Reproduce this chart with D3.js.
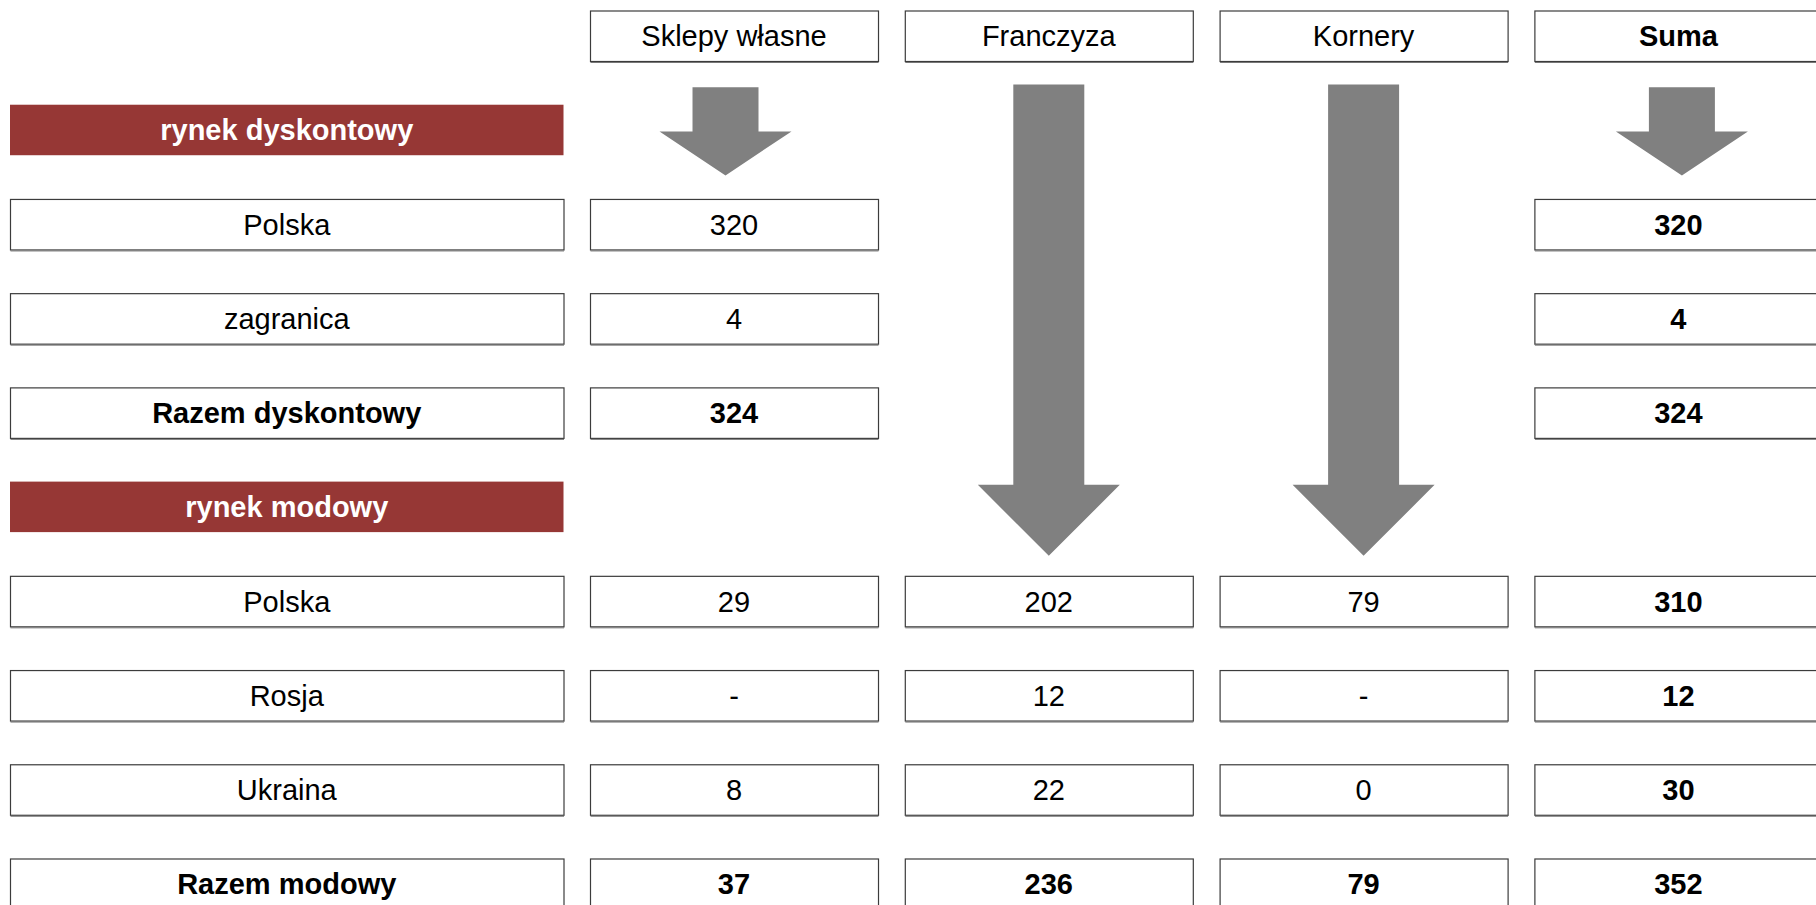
<!DOCTYPE html>
<html>
<head>
<meta charset="utf-8">
<script src="https://cdn.jsdelivr.net/npm/d3@7"></script>
<style>
  html, body { margin: 0; padding: 0; background: #fff; }
  svg { display: block; }
  text { font-family: Arial, "Liberation Sans", sans-serif; }
</style>
</head>
<body>
<svg id="chart" width="1816" height="905"></svg>
<script>
// ── data ──────────────────────────────────────
const columns = ["Sklepy własne", "Franczyza", "Kornery", "Suma"];
const rowLabels = [
  "rynek dyskontowy", "Polska", "zagranica", "Razem dyskontowy",
  "rynek modowy", "Polska", "Rosja", "Ukraina", "Razem modowy"
];
const rowKinds = ["section", "item", "item", "total", "section", "item", "item", "item", "total"];
const sklepyValues    = [null, "320", "4", "324", null, "29", "-", "8", "37"];
const franczyzaValues = [null, null, null, null, null, "202", "12", "22", "236"];
const korneryValues   = [null, null, null, null, null, "79", "-", "0", "79"];
const sumaValues      = [null, "320", "4", "324", null, "310", "12", "30", "352"];
// arrow from header down to the first row (index in rowLabels) with values in that column
const arrows = [
  { col: "Sklepy własne", toRow: 1 },
  { col: "Franczyza", toRow: 5 },
  { col: "Kornery", toRow: 5 },
  { col: "Suma", toRow: 1 }
];

const valuesByCol = {
  "Sklepy własne": sklepyValues,
  "Franczyza": franczyzaValues,
  "Kornery": korneryValues,
  "Suma": sumaValues
};

// ── layout ────────────────────────────────────
const svg = d3.select("#chart");
const fontSize = 29;
const RED = "#963735";
const ARROW = "#808080";
const BORDER = "#3c3c3c";

// band 0 = column headers, bands 1..9 = table rows
const y = d3.scaleBand()
  .domain(d3.range(rowLabels.length + 1))
  .range([10.5, 909])
  .paddingInner(0.464)
  .paddingOuter(0);

const x = d3.scaleBand()
  .domain(columns)
  .range([590, 1822.4])
  .paddingInner(0.0851)
  .paddingOuter(0);

const labelX0 = 10, labelX1 = 563.5;
const bh = y.bandwidth();

function box(g, x0, y0, w, h) {
  g.append("rect")
    .attr("x", x0 + 0.5).attr("y", y0 + 0.5)
    .attr("width", w).attr("height", h)
    .attr("fill", "#fff")
    .attr("stroke", BORDER)
    .attr("stroke-width", 1.2);
  // slight shadow at the bottom edge
  g.append("line")
    .attr("x1", x0 + 0.5).attr("x2", x0 + w + 0.5)
    .attr("y1", y0 + h + 1.5).attr("y2", y0 + h + 1.5)
    .attr("stroke", "#777").attr("stroke-width", 1);
}

function label(g, cx, y0, txt, bold, color) {
  g.append("text")
    .attr("x", cx)
    .attr("y", y0 + bh / 2 + fontSize * 0.36)
    .attr("text-anchor", "middle")
    .attr("font-size", fontSize)
    .attr("font-weight", bold ? "bold" : "normal")
    .attr("fill", color || "#000")
    .text(txt);
}

// ── arrows (behind boxes) ──────────────────────
const arrowG = svg.append("g").attr("class", "arrows");
const arrowStyle = {
  short: { shaft: 66, head: 132, headH: 44, topGap: 26.3, tipGap: 23.5 },
  long:  { shaft: 71, head: 142, headH: 71, topGap: 23.5, tipGap: 20 }
};
const arrowDx = { "Sklepy własne": -8.5, "Suma": 3.5 };

arrows.forEach((a) => {
  const s = a.toRow > 1 ? arrowStyle.long : arrowStyle.short;
  const cx = x(a.col) + x.bandwidth() / 2 + (arrowDx[a.col] || 0);
  const top = y(0) + bh + s.topGap;
  const tip = y(a.toRow + 1) - s.tipGap;
  const shoulder = tip - s.headH;
  const pts = [
    [cx - s.shaft / 2, top], [cx + s.shaft / 2, top],
    [cx + s.shaft / 2, shoulder], [cx + s.head / 2, shoulder],
    [cx, tip],
    [cx - s.head / 2, shoulder], [cx - s.shaft / 2, shoulder]
  ];
  arrowG.append("path")
    .attr("d", d3.line()(pts) + "Z")
    .attr("fill", ARROW);
});

// ── column headers ────────────────────────────
const headG = svg.append("g").attr("class", "headers");
columns.forEach((c) => {
  box(headG, x(c), y(0), x.bandwidth(), bh);
  label(headG, x(c) + x.bandwidth() / 2, y(0), c, c === "Suma");
});

// ── rows ──────────────────────────────────────
const rowsG = svg.append("g").attr("class", "rows");
rowLabels.forEach((lbl, i) => {
  const y0 = y(i + 1);
  const kind = rowKinds[i];
  if (kind === "section") {
    rowsG.append("rect")
      .attr("x", labelX0).attr("y", y0)
      .attr("width", labelX1 - labelX0).attr("height", bh)
      .attr("fill", RED);
    label(rowsG, (labelX0 + labelX1) / 2, y0, lbl, true, "#fff");
    return;
  }
  box(rowsG, labelX0, y0, labelX1 - labelX0, bh);
  label(rowsG, (labelX0 + labelX1) / 2, y0, lbl, kind === "total");

  columns.forEach((c) => {
    const v = valuesByCol[c][i];
    if (v == null) return;
    box(rowsG, x(c), y0, x.bandwidth(), bh);
    label(rowsG, x(c) + x.bandwidth() / 2, y0, v, kind === "total" || c === "Suma");
  });
});
</script>
</body>
</html>
